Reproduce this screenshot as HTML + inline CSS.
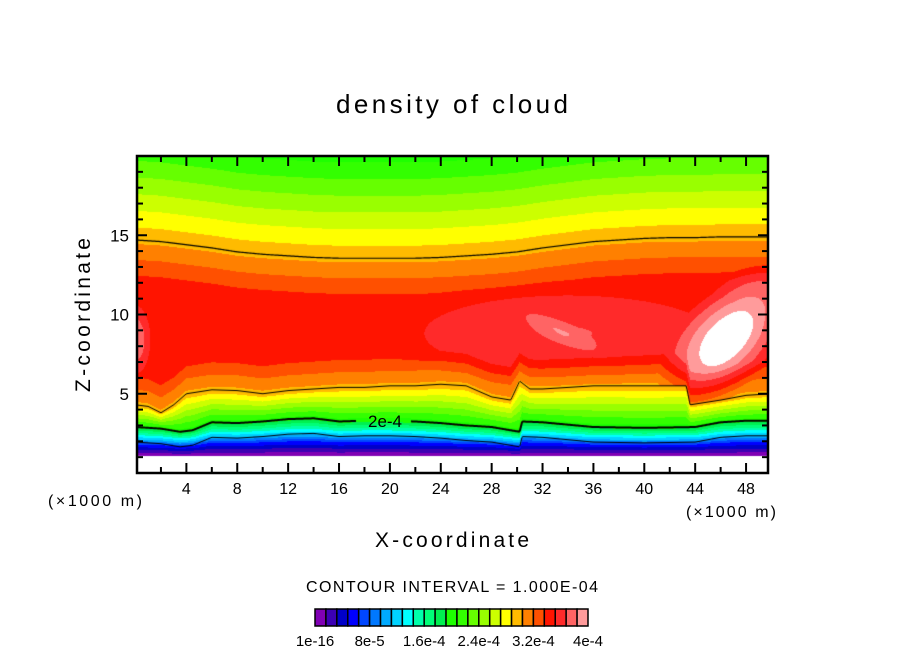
<!DOCTYPE html>
<html><head><meta charset="utf-8"><style>
html,body{margin:0;padding:0;background:#fff;}
#wrap{position:relative;width:904px;height:654px;overflow:hidden;background:#fff;}
canvas{position:absolute;left:0;top:0;}
svg{position:absolute;left:0;top:0;}
text{font-family:"Liberation Sans",sans-serif;fill:#000;}
</style></head><body>
<div id="wrap">
<canvas id="field" width="904" height="654"></canvas>
<svg id="ov" width="904" height="654">
<text x="452" y="113" font-size="26" text-anchor="middle" textLength="232" lengthAdjust="spacing">density of cloud</text>
<text transform="translate(90,315) rotate(-90)" font-size="21" text-anchor="middle" textLength="154" lengthAdjust="spacing">Z-coordinate</text>
<text x="452" y="547" font-size="21" text-anchor="middle" textLength="154" lengthAdjust="spacing">X-coordinate</text>
<text x="95" y="506" font-size="16" text-anchor="middle" textLength="94" lengthAdjust="spacing">(×1000 m)</text>
<text x="731" y="517" font-size="16" text-anchor="middle" textLength="90" lengthAdjust="spacing">(×1000 m)</text>
<text x="452" y="592" font-size="16" text-anchor="middle" textLength="292" lengthAdjust="spacing">CONTOUR INTERVAL = 1.000E-04</text>
<text x="385" y="427" font-size="17" text-anchor="middle">2e-4</text>
<g id="axes"></g>
<g id="cbar"></g>
</svg>
</div>
<script>
// ---- data ----
const xTicks = [4,8,12,16,20,24,28,32,36,40,44,48];
const zTicks = [5,10,15];
const cbarLabels = ["1e-16","8e-5","1.6e-4","2.4e-4","3.2e-4","4e-4"];
const levelColors = ["#8000b4","#3c00b4","#0000c8","#0000ff","#0046ff","#0078ff","#00aaff","#00d2ff","#00ffff","#00ffaa","#00ff78","#00f050","#1eff00","#33ff00","#66ff00","#99ff00","#ccff00","#ffff00","#ffbb00","#ff8000","#ff5000","#ff1400","#ff2a2a","#ff6464","#ff9b9b"];
// 2e-4 contour height (z, km) vs x
const zcX = [0,2,3.5,4.5,6,8,10,12,14,16,18,20,22,24,26,28,30.2,30.4,32,36,40,44,46,48,50];
const zcZ = [2.9,2.8,2.6,2.7,3.2,3.15,3.25,3.4,3.45,3.25,3.3,3.3,3.25,3.15,3.0,2.9,2.6,3.25,3.2,2.9,2.85,2.9,3.2,3.3,3.3];
// lower 3e-4 contour height vs x
const zuX = [0,1,2,3,4,6,8,10,12,14,16,18,20,22,24,26,28,29.5,30.2,31,32,34,36,38,40,42,43.3,43.6,46,48,50];
const zuZ = [4.3,4.2,3.8,4.3,5.0,5.25,5.2,5.0,5.2,5.3,5.4,5.4,5.5,5.5,5.6,5.5,4.8,4.6,5.8,5.3,5.3,5.4,5.5,5.5,5.5,5.5,5.5,4.3,4.6,4.9,5.0];
// upper 3e-4 contour height vs x
const ztX = [0,2,4,6,8,10,12,14,16,18,20,22,24,26,28,30,32,34,36,38,40,42,44,46,48,50];
const ztZ = [14.7,14.6,14.4,14.2,13.95,13.8,13.7,13.6,13.55,13.55,13.55,13.55,13.6,13.7,13.8,13.95,14.2,14.4,14.6,14.7,14.8,14.85,14.85,14.9,14.9,14.9];
// density maxima
const hotX = [46.6, 33.2, 0.0, 34];
const hotZ = [8.5, 9.0, 8.4, 8.8];
const hotA = [5.2, 1.1, 3.0, 1.7];
const hotSX = [6.8, 4.5, 1.4, 16];
const hotSZ = [3.3, 0.8, 2.6, 3.4];
const hotAng = [-40, 22, 0, 0];

// ---- axes ----
const PL=137, PR=768, PT=156, PB=473;
function X(x){return 135.5+12.72*x;}
function Z(z){return 473-15.85*z;}
function iX(px){return (px-135.5)/12.72;}
function iZ(py){return (473-py)/15.85;}
function interp(xs,ys,x){
  if(x<=xs[0])return ys[0];
  for(let i=1;i<xs.length;i++){ if(x<=xs[i]){const t=(x-xs[i-1])/(xs[i]-xs[i-1]);return ys[i-1]+t*(ys[i]-ys[i-1]);} }
  return ys[ys.length-1];
}
const ZB=1.05;
const lowT=[0,0.22,0.4,0.58,0.8,1], lowV=[0,2,4,7,10,12.5];
function value(x,z){
  const zc=interp(zcX,zcZ,x), zu=interp(zuX,zuZ,x), zt=interp(ztX,ztZ,x);
  let v;
  if(z<zc){ if(z<ZB) return -1; v=interp(lowT,lowV,(z-ZB)/(zc-ZB)); }
  else if(z<zu){ v=12.5+6.25*(z-zc)/(zu-zc); }
  else { v=Math.min(18.75+1.3*(z-zu), 18.75+1.0*(zt-z), 21.5); if(z>zt) v=18.75-0.95*(z-zt); }
  if(z>zu){
    for(let i=0;i<hotX.length;i++){
      const a=hotAng[i]*Math.PI/180;
      const dx=(x-hotX[i]), dz=(z-hotZ[i]);
      const u=(dx*Math.cos(a)-dz*Math.sin(a))/hotSX[i], w=(dx*Math.sin(a)+dz*Math.cos(a))/hotSZ[i];
      const r=Math.sqrt(u*u+w*w);
      if(r<1) v+=hotA[i]*(1-r);
    }
  }
  return v;
}
function hexRgb(h){return [parseInt(h.substr(1,2),16),parseInt(h.substr(3,2),16),parseInt(h.substr(5,2),16)];}
const rgb=levelColors.map(hexRgb);
const cv=document.getElementById('field'), ctx=cv.getContext('2d');
const W=PR-PL, H=PB-PT;
const img=ctx.createImageData(W,H);
for(let j=0;j<H;j++){const z=iZ(PT+j+0.5);
  for(let i=0;i<W;i++){const x=iX(PL+i+0.5);
    const v=value(x,z); let c;
    if(v<0) c=[255,255,255]; else { const L=Math.floor(v); c= L>=25?[255,255,255]:rgb[Math.max(0,L)]; }
    const k=(j*W+i)*4; img.data[k]=c[0];img.data[k+1]=c[1];img.data[k+2]=c[2];img.data[k+3]=255;}}
ctx.putImageData(img,PL,PT);
function drawLine(xs,ys,off,lw,gap){
  ctx.strokeStyle='#000';ctx.lineWidth=lw;ctx.beginPath();let pen=false;
  for(let px=PL;px<=PR;px++){
    if(gap && px>gap[0] && px<gap[1]){pen=false;continue;}
    const py=Z(interp(xs,ys,iX(px))+off);
    if(!pen){ctx.moveTo(px,py);pen=true;} else ctx.lineTo(px,py);
  }
  ctx.stroke();
}
drawLine(zcX,zcZ,0,2,[356,411]);
drawLine(zcX,zcZ,-0.95,1,null);
drawLine(zuX,zuZ,0,1,null);
drawLine(ztX,ztZ,0,1.2,null);

const NS='http://www.w3.org/2000/svg';
const ax=document.getElementById('axes');
function el(tag,attrs,parent){const e=document.createElementNS(NS,tag);for(const k in attrs)e.setAttribute(k,attrs[k]);parent.appendChild(e);return e;}
const frame=el('rect',{x:PL,y:PT,width:W,height:H,fill:'none',stroke:'#000','stroke-width':2.5},ax);


for(let t=2;t<=48;t+=2){
  const len=(t%4===0)?10:6, px=X(t);
  const a=el('line',{x1:px,y1:PB,x2:px,y2:PB-len,stroke:'#000','stroke-width':2},ax);
  
  
  const b=el('line',{x1:px,y1:PT,x2:px,y2:PT+len,stroke:'#000','stroke-width':2},ax);
  
  
}
xTicks.forEach(t=>{
  const tx=el('text',{x:X(t),y:494,'font-size':16,'text-anchor':'middle'},ax);
  tx.textContent=String(t);
  
  
});
for(let t=1;t<=19;t++){
  const len=(t%5===0)?10:6, py=Z(t);
  const a=el('line',{x1:PL,y1:py,x2:PL+len,y2:py,stroke:'#000','stroke-width':2},ax);
  
  
  const b=el('line',{x1:PR,y1:py,x2:PR-len,y2:py,stroke:'#000','stroke-width':2},ax);
  
  
}
zTicks.forEach(t=>{
  const tx=el('text',{x:129,y:Z(t)+6,'font-size':17,'text-anchor':'end'},ax);
  tx.textContent=String(t);
  
  
});
const cb=document.getElementById('cbar');
const CBL=315, CBR=588, CBT=609, CBB=626, bw=(CBR-CBL)/levelColors.length;
levelColors.forEach((c,i)=>{
  const r=el('rect',{x:CBL+i*bw,y:CBT,width:bw,height:CBB-CBT,fill:c,stroke:'#000','stroke-width':1.5},cb);
  
  
});
cbarLabels.forEach((s,i)=>{
  const tx=el('text',{x:CBL+i*5*bw,y:646,'font-size':15,'text-anchor':'middle'},cb);
  tx.textContent=s;
  
  
});
</script>
</body></html>
